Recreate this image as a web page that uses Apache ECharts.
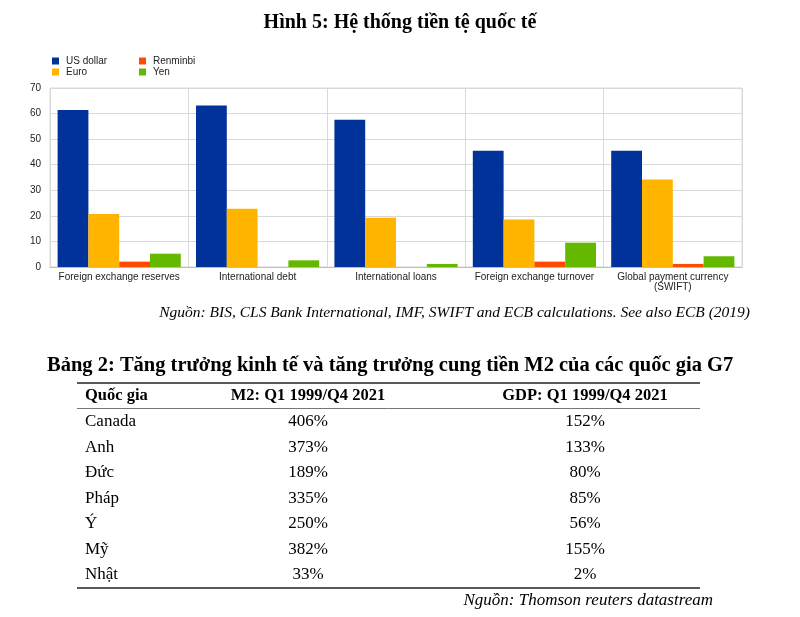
<!DOCTYPE html>
<html><head><meta charset="utf-8">
<script src="https://cdn.jsdelivr.net/npm/echarts@6/dist/echarts.min.js"></script>
<style>html,body{margin:0;padding:0;background:#fff}#c{width:800px;height:617px}</style>
</head><body><div id="c"></div>
<script>
const categories = ['Foreign exchange reserves','International debt','International loans','Foreign exchange turnover','Global payment currency\n(SWIFT)'];
const usDollar = [61.4, 63.2, 57.6, 45.5, 45.5];
const euro = [20.7, 22.8, 19.3, 18.6, 34.2];
const renminbi = [2.1, 0, 0, 2.1, 1.2];
const yen = [5.2, 2.6, 1.2, 9.5, 4.2];
const yTicks = [0, 10, 20, 30, 40, 50, 60, 70];

const tableHeader = ['Quốc gia', 'M2: Q1 1999/Q4 2021', 'GDP: Q1 1999/Q4 2021'];
const countries = ['Canada', 'Anh', 'Đức', 'Pháp', 'Ý', 'Mỹ', 'Nhật'];
const m2Growth = ['406%', '373%', '189%', '335%', '250%', '382%', '33%'];
const gdpGrowth = ['152%', '133%', '80%', '85%', '56%', '155%', '2%'];

const serif = '"Liberation Serif", "DejaVu Serif", serif';
const sans = '"Liberation Sans", Arial, sans-serif';

const graphics = [];
graphics.push({type:'text', left:'center', top:12, scaleY:1.08, style:{text:'Hình 5: Hệ thống tiền tệ quốc tế', font:'bold 20px '+serif, fill:'#000'}});
graphics.push({type:'text', right:50, top:305, style:{text:'Nguồn: BIS, CLS Bank International, IMF, SWIFT and ECB calculations. See also ECB (2019)', font:'italic 15.5px '+serif, fill:'#000'}});
graphics.push({type:'text', left:47, top:355, style:{text:'Bảng 2: Tăng trưởng kinh tế và tăng trưởng cung tiền M2 của các quốc gia G7', font:'bold 20.5px '+serif, fill:'#000'}});
graphics.push({type:'line', shape:{x1:77, y1:383, x2:700, y2:383}, style:{stroke:'#222', lineWidth:1.5}});
graphics.push({type:'line', shape:{x1:77, y1:408.5, x2:700, y2:408.5}, style:{stroke:'#777', lineWidth:1}});
graphics.push({type:'line', shape:{x1:77, y1:588, x2:700, y2:588}, style:{stroke:'#222', lineWidth:1.5}});
graphics.push({type:'text', right:87, top:592, style:{text:'Nguồn: Thomson reuters datastream', font:'italic 17px '+serif, fill:'#000'}});
const colX = [85, 308, 585];
graphics.push({type:'text', x:colX[0], y:396, style:{text:tableHeader[0], font:'bold 16.5px '+serif, fill:'#000', textAlign:'left', textVerticalAlign:'middle'}});
graphics.push({type:'text', x:colX[1], y:396, style:{text:tableHeader[1], font:'bold 16.5px '+serif, fill:'#000', textAlign:'center', textVerticalAlign:'middle'}});
graphics.push({type:'text', x:colX[2], y:396, style:{text:tableHeader[2], font:'bold 16.5px '+serif, fill:'#000', textAlign:'center', textVerticalAlign:'middle'}});
countries.forEach((c, i) => {
  const y = 422 + i * 25.5;
  graphics.push({type:'text', x:colX[0], y:y, style:{text:c, font:'17px '+serif, fill:'#000', textAlign:'left', textVerticalAlign:'middle'}});
  graphics.push({type:'text', x:colX[1], y:y, style:{text:m2Growth[i], font:'17px '+serif, fill:'#000', textAlign:'center', textVerticalAlign:'middle'}});
  graphics.push({type:'text', x:colX[2], y:y, style:{text:gdpGrowth[i], font:'17px '+serif, fill:'#000', textAlign:'center', textVerticalAlign:'middle'}});
});

const chart = echarts.init(document.getElementById('c'), null, {renderer:'canvas'});
const legendCommon = {orient:'vertical', itemWidth:7, itemHeight:7, itemGap:1, icon:'rect', textStyle:{fontSize:10, fontFamily:sans, color:'#222', padding:[0,0,0,2]}};
chart.setOption({
  animation:false,
  color:['#003299','#ffb400','#ff4b00','#65b800'],
  legend:[
    Object.assign({left:47, top:51, data:['US dollar','Euro']}, legendCommon),
    Object.assign({left:134, top:51, data:['Renminbi','Yen']}, legendCommon)
  ],
  grid:{left:50, right:58, top:88, bottom:350, show:true, borderColor:'#d9d9d9', borderWidth:1},
  xAxis:{type:'category', data:categories,
    axisLine:{lineStyle:{color:'#bdbdbd'}}, axisTick:{show:false},
    splitLine:{show:true, lineStyle:{color:'#d9d9d9'}},
    axisLabel:{fontSize:10, fontFamily:sans, color:'#222', margin:5, lineHeight:10, interval:0}},
  yAxis:{type:'value', min:yTicks[0], max:yTicks[yTicks.length-1], interval:10,
    axisLine:{show:false}, axisTick:{show:false},
    splitLine:{lineStyle:{color:'#d9d9d9'}},
    axisLabel:{fontSize:10, fontFamily:sans, color:'#222', margin:9}},
  series:[
    {name:'US dollar', type:'bar', data:usDollar, barGap:'0%', barCategoryGap:'11%'},
    {name:'Euro', type:'bar', data:euro, barGap:'0%', barCategoryGap:'11%'},
    {name:'Renminbi', type:'bar', data:renminbi, barGap:'0%', barCategoryGap:'11%'},
    {name:'Yen', type:'bar', data:yen, barGap:'0%', barCategoryGap:'11%'}
  ],
  graphic:graphics
});
</script></body></html>
